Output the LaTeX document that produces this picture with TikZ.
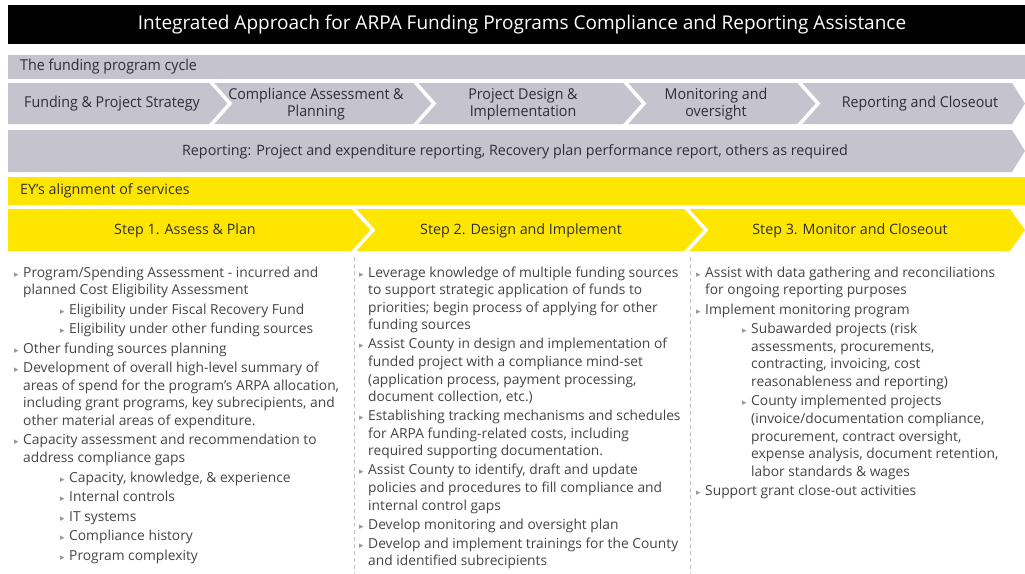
\documentclass[tikz,border=0pt]{standalone}
\usepackage{fontspec}
\setmainfont{Open Sans}
\newfontfamily\condf[FakeStretch=0.95]{Open Sans}
\newfontfamily\symf{DejaVu Sans}
\definecolor{eyg}{RGB}{197,196,206}
\definecolor{eyy}{RGB}{255,230,0}
\definecolor{txt}{RGB}{46,46,56}
\definecolor{bodyc}{RGB}{68,68,72}
\definecolor{bulc}{RGB}{150,150,156}
\newcommand\bul{{\symf\fontsize{9}{9}\selectfont\textcolor{bulc}{▸}}}
\newcommand\itm{\par\noindent\hangindent=9pt\hangafter=1\makebox[9pt][l]{\bul}}
\newcommand\sitm{\par\noindent\hangindent=55pt\hangafter=1\hspace*{46pt}\makebox[9pt][l]{\bul}}
\newcommand\colbox[1]{\parbox[t]{400pt}{\fontsize{13.8}{17.6}\selectfont#1}}
\begin{document}
\begin{tikzpicture}[x=1pt,y=-1pt,
  hdr/.style={text=txt,font=\condf\fontsize{15}{17}\selectfont,align=center,inner sep=0},
  bar/.style={text=txt,font=\fontsize{14.3}{15}\selectfont,inner sep=0},
  sep/.style={white,line width=3.5pt},
  coltext/.style={anchor=base west,inner sep=0,text=bodyc}]
\useasboundingbox (0,0) rectangle (1025,573);
% title
\fill[black] (8,5) rectangle (1025,44);
\node[text=white,font=\fontsize{19}{21}\selectfont,inner sep=0] (title) at (522,24.5)
  {Integrated Approach for ARPA Funding Programs Compliance and Reporting Assistance};
% funding program cycle
\fill[eyg] (8,55) rectangle (1025,79);
\node[hdr,anchor=west] (cycle) at (20,67) {The funding program cycle};
\fill[eyg] (8,83) -- (1012,83) -- (1025,103.5) -- (1012,124) -- (8,124) -- cycle;
\foreach \x in {210,414,624,798}{\draw[sep] (\x,81) -- (\x+20,103.5) -- (\x,126);}
\node[hdr] (c1) at (112,104) {Funding \& Project Strategy};
\node[hdr] (c2) at (316,104) {Compliance Assessment \&\\Planning};
\node[hdr] (c3) at (523,104) {Project Design \&\\Implementation};
\node[hdr] (c4) at (716,104) {Monitoring and\\oversight};
\node[hdr] (c5) at (920,104) {Reporting and Closeout};
% reporting bar
\fill[eyg] (8,130) -- (1012,130) -- (1025,151) -- (1012,172) -- (8,172) -- cycle;
\node[bar] (rep) at (515,152) {Reporting: Project and expenditure reporting, Recovery plan performance report, others as required};
% EY alignment
\fill[eyy] (8,177) rectangle (1025,205);
\node[bar,anchor=west] (ey) at (20,191) {EY’s alignment of services};
\fill[eyy] (8,209) -- (1010,209) -- (1025,230) -- (1010,251) -- (8,251) -- cycle;
\foreach \x in {352,685}{\draw[sep] (\x,207) -- (\x+21,230) -- (\x,253);}
\node[bar] (s1) at (185,231) {Step 1. Assess \& Plan};
\node[bar] (s2) at (521,231) {Step 2. Design and Implement};
\node[bar] (s3) at (850,231) {Step 3. Monitor and Closeout};
% separators
\draw[bulc!60,line width=0.8pt,dash pattern=on 4pt off 3pt] (354,257) -- (354,573);
\draw[bulc!60,line width=0.8pt,dash pattern=on 4pt off 3pt] (690,257) -- (690,573);
% column 1
\node[coltext] (col1) at (14,277) {\colbox{%
\itm Program/Spending Assessment - incurred and\\planned Cost Eligibility Assessment\setlength{\parskip}{1.9pt}
\sitm Eligibility under Fiscal Recovery Fund
\sitm Eligibility under other funding sources
\itm Other funding sources planning
\itm Development of overall high-level summary of\\areas of spend for the program’s ARPA allocation,\\including grant programs, key subrecipients, and\\other material areas of expenditure.
\itm Capacity assessment and recommendation to\\address compliance gaps
\sitm Capacity, knowledge, \& experience
\sitm Internal controls
\sitm IT systems
\sitm Compliance history
\sitm Program complexity}};
% column 2
\node[coltext] (col2) at (359,277) {\colbox{%
\itm Leverage knowledge of multiple funding sources\\to support strategic application of funds to\\priorities; begin process of applying for other\\funding sources\setlength{\parskip}{1.4pt}
\itm Assist County in design and implementation of\\funded project with a compliance mind-set\\(application process, payment processing,\\document collection, etc.)
\itm Establishing tracking mechanisms and schedules\\for ARPA funding-related costs, including\\required supporting documentation.
\itm Assist County to identify, draft and update\\policies and procedures to fill compliance and\\internal control gaps
\itm Develop monitoring and oversight plan
\itm Develop and implement trainings for the County\\and identified subrecipients}};
% column 3
\node[coltext] (col3) at (696,277) {\colbox{%
\itm Assist with data gathering and reconciliations\\for ongoing reporting purposes\setlength{\parskip}{1.9pt}
\itm Implement monitoring program
\sitm Subawarded projects (risk\\assessments, procurements,\\contracting, invoicing, cost\\reasonableness and reporting)
\sitm County implemented projects\\(invoice/documentation compliance,\\procurement, contract oversight,\\expense analysis, document retention,\\labor standards \& wages
\itm Support grant close-out activities}};
\end{tikzpicture}
\end{document}
